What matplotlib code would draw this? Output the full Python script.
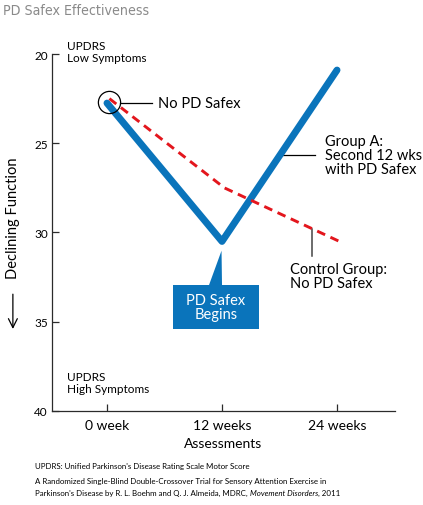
import matplotlib
matplotlib.use('Agg')
import matplotlib.pyplot as plt
from matplotlib.patches import Polygon, Rectangle

plt.rcParams['font.family'] = ['Lato', 'DejaVu Sans']

weeks = [0, 12, 24]
week_labels = ['0 week', '12 weeks', '24 weeks']
group_a = [22.75, 30.5, 20.9]
control = [22.5, 27.5, 30.5]
y_ticks = [20, 25, 30, 35, 40]

blue = '#0a74bb'
red = '#e3161d'
dark = '#2b2b2b'

fig = plt.figure(figsize=(4.23, 5.06), dpi=100)
ax = fig.add_axes([0.1229, 0.1858, 0.8109, 0.7055])

ax.plot(weeks, group_a, color=blue, linewidth=5, solid_capstyle='round', zorder=3)
ax.plot([w + 0.25 for w in weeks], control, color=red, linewidth=2.1,
        linestyle=(0, (3, 2)), zorder=4)

ax.set_xlim(-5.74, 30.05)
ax.set_ylim(40, 20)
ax.set_xticks(weeks)
ax.set_xticklabels(week_labels, fontsize=10)
ax.set_yticks(y_ticks)
ax.set_yticklabels([str(v) for v in y_ticks], fontsize=8.5)
ax.tick_params(axis='both', direction='in', length=5, width=0.9, color=dark,
               labelcolor='black')
ax.tick_params(axis='y', pad=3)
ax.tick_params(axis='x', pad=6)
for s in ['top', 'right']:
    ax.spines[s].set_visible(False)
for s in ['left', 'bottom']:
    ax.spines[s].set_color(dark)
    ax.spines[s].set_linewidth(0.9)

ax.set_xlabel('Assessments', fontsize=10, labelpad=4)
ax.text(-0.114, 0.544, 'Declining Function', transform=ax.transAxes, rotation=90,
        ha='center', va='center', fontsize=10.5)
ax.annotate('', xy=(-0.114, 0.222), xytext=(-0.114, 0.335), xycoords='axes fraction',
            arrowprops=dict(arrowstyle='->', color='black', lw=0.9,
                            mutation_scale=16), annotation_clip=False)

ax.text(-4.2, 19.85, 'UPDRS\nLow Symptoms', fontsize=8.5, va='center', ha='left',
        linespacing=1.05, clip_on=False)
ax.text(-4.2, 38.4, 'UPDRS\nHigh Symptoms', fontsize=8.5, va='center', ha='left',
        linespacing=1.05)

# start marker circle and label
ax.plot([0.2], [22.7], marker='o', markersize=16, markerfacecolor='none',
        markeredgecolor='black', markeredgewidth=0.9, zorder=5)
ax.plot([1.36, 4.7], [22.73, 22.73], color='black', linewidth=0.9)
ax.text(5.3, 22.73, 'No PD Safex', fontsize=10.5, va='center', ha='left')

# Group A label
ax.plot([18.37, 21.7], [25.66, 25.66], color='black', linewidth=0.9)
ax.text(22.75, 25.66, 'Group A:\nSecond 12 wks\nwith PD Safex', fontsize=10.5,
        va='center', ha='left', linespacing=0.98)

# Control label
ax.plot([21.43, 21.43], [29.8, 31.3], color='#444444', linewidth=1.1)
ax.text(19.1, 32.45, 'Control Group:\nNo PD Safex', fontsize=10.5,
        va='center', ha='left', linespacing=0.98)

# PD Safex Begins callout
ax.add_patch(Rectangle((6.85, 32.92), 9.0, 2.48, facecolor=blue, edgecolor='none',
                       zorder=3))
ax.add_patch(Polygon([(10.64, 32.95), (11.95, 31.02), (12.0, 32.95)], closed=True,
                     facecolor=blue, edgecolor='none', zorder=3))
ax.text(11.35, 34.17, 'PD Safex\nBegins', color='white', fontsize=10.5,
        ha='center', va='center', linespacing=1.0, zorder=4)

fig.text(0.007, 0.978, 'PD Safex Effectiveness', color='#8a8a8a', fontsize=10.2,
         ha='left', va='center', family=['DejaVu Sans'], fontstretch='condensed')

fig.text(0.083, 0.078, "UPDRS: Unified Parkinson's Disease Rating Scale Motor Score",
         fontsize=5.7, ha='left', va='center')
fig.text(0.083, 0.049,
         'A Randomized Single-Blind Double-Crossover Trial for Sensory Attention Exercise in',
         fontsize=5.7, ha='left', va='center')
t1 = fig.text(0.083, 0.019,
              "Parkinson's Disease by R. L. Boehm and Q. J. Almeida, MDRC, ",
              fontsize=5.7, ha='left', va='baseline')
t2 = fig.text(0, 0.019, 'Movement Disorders', fontsize=5.7, style='italic',
              ha='left', va='baseline')
fig.canvas.draw()
inv = fig.transFigure.inverted()
x1 = inv.transform((t1.get_window_extent().x1, 0))[0]
t2.set_x(x1)
fig.canvas.draw()
x2 = inv.transform((t2.get_window_extent().x1, 0))[0]
fig.text(x2, 0.019, ', 2011', fontsize=5.7, ha='left', va='baseline')

fig.savefig('out.png', dpi=100)
